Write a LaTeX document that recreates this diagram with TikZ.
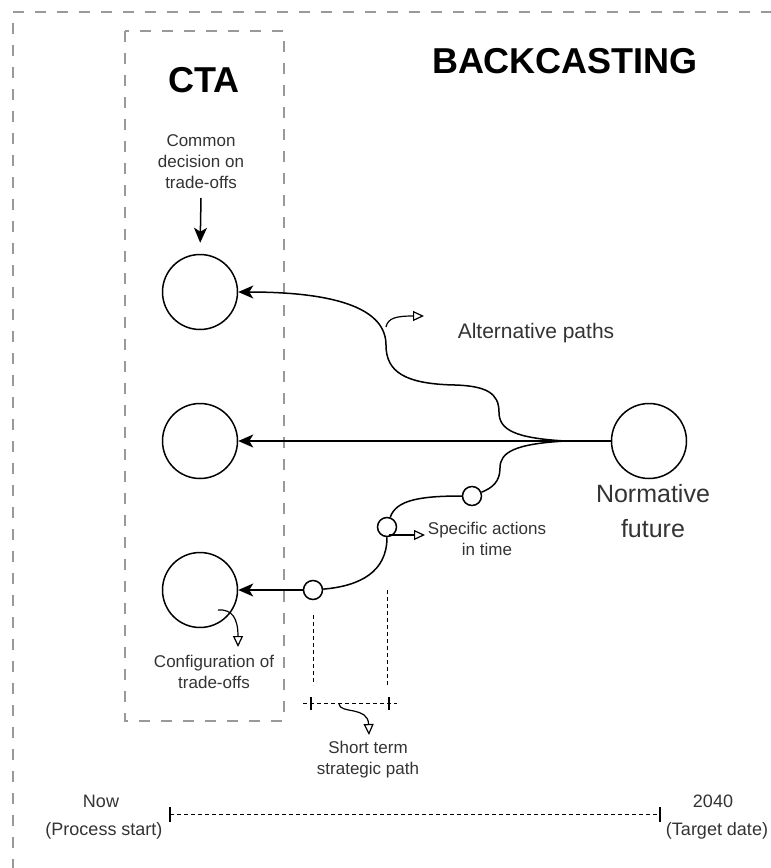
\documentclass[tikz,border=0pt]{standalone}
\usepackage{fontspec}
\setmainfont{Liberation Sans}
\usetikzlibrary{arrows.meta}
\begin{document}
\begin{tikzpicture}[x=1pt,y=-1pt,
  dashframe/.style={draw=black!40, line width=2.8pt, dash pattern=on 11pt off 11pt},
  stage/.style={circle, draw, line width=1.5pt, minimum size=75pt, inner sep=0pt},
  milestone/.style={circle, draw, line width=1.5pt, minimum size=19pt, inner sep=0pt, fill=white},
  route/.style={line width=1.5pt},
  mainarrow/.style={line width=1.5pt, -{Stealth[length=15pt,width=13pt,inset=4pt]}},
  notearrow/.style={line width=1.2pt, -{Triangle[length=11pt,width=10pt,fill=white]}},
  guideline/.style={line width=1pt, dash pattern=on 4pt off 3pt},
  tick/.style={line width=1.1pt},
  note/.style={text=black!80, align=center, font=\fontsize{17}{21}\selectfont, inner sep=0pt},
  heading/.style={font=\fontsize{36}{40}\selectfont\bfseries, inner sep=0pt},
]
\useasboundingbox (0,0) rectangle (771,868);

% outer backcasting frame (open to the right and bottom)
\draw[dashframe] (13,12) -- (771,12);
\draw[dashframe] (13,23) -- (13,868);

% CTA frame
\draw[dashframe] (125,31) rectangle (284,721);

% headings
\node[heading] at (204,80) {CTA};
\node[heading] at (565,61) {BACKCASTING};

% stages
\node[stage] (cta1) at (200,292) {};
\node[stage] (cta2) at (200,441) {};
\node[stage] (cta3) at (200,590) {};
\node[stage] (future) at (649,441) {};
\node[milestone] (m1) at (472,496) {};
\node[milestone] (m2) at (387,527) {};
\node[milestone] (m3) at (313,590) {};
\coordinate (merge) at (565,441);

% paths from the normative future back to the present
\draw[mainarrow] (future) -- (cta2);
\draw[mainarrow] (merge) .. controls (515,438) and (499,430) .. (499,412)
  .. controls (499,393) and (486,386) .. (455,385)
  .. controls (405,384) and (386,372) .. (386,345)
  .. controls (386,310) and (340,292) .. (cta1);
\draw[route] (merge) .. controls (515,444) and (500,452) .. (500,468)
  .. controls (500,482) and (492,488) .. (m1);
\draw[route] (m1) .. controls (420,496) and (396,500) .. (m2);
\draw[route] (m2) .. controls (387,572) and (360,586) .. (m3);
\draw[mainarrow] (m3) -- (cta3);

% decision label and arrow
\node[note] (decision) at (201,162) {Common\\decision on\\trade-offs};
\coordinate (decfrom) at (201,198);
\draw[mainarrow, shorten >=11pt] (decfrom) -- (cta1.north);

% annotation arrows
\coordinate (altfrom) at (386,327);
\coordinate (altto) at (424,316);
\draw[notearrow] (altfrom) .. controls (388,318) and (396,316) .. (altto);
\node[note, font=\fontsize{21}{25}\selectfont] at (536,333) {Alternative paths};

\coordinate (actfrom) at (389,535);
\coordinate (actto) at (425,535);
\draw[notearrow] (actfrom) -- (actto);
\node[note] at (487,539) {Specific actions\\in time};

\coordinate (cfgfrom) at (218,610);
\coordinate (cfgto) at (238,647);
\draw[notearrow] (cfgfrom) .. controls (232,609) and (238,618) .. (cfgto);
\node[note] at (214,672) {Configuration of\\trade-offs};

\node[note, font=\fontsize{25}{35}\selectfont] at (653,511) {Normative\\future};

% short term strategic path bracket
\coordinate (g1top) at (313,615);
\coordinate (g1bot) at (313,685);
\coordinate (g2top) at (387,590);
\coordinate (g2bot) at (387,685);
\draw[guideline] (g1top) -- (g1bot);
\draw[guideline] (g2top) -- (g2bot);
\coordinate (bl) at (303,703);
\coordinate (br) at (397,703);
\draw[guideline] (bl) -- (br);
\draw[tick] (311,697) -- (311,710);
\draw[tick] (389,697) -- (389,710);
\coordinate (stfrom) at (339,704);
\coordinate (stto) at (369,735);
\draw[notearrow] (stfrom) .. controls (340,714) and (368,706) .. (stto);
\node[note] at (368,760) {Short term\\strategic path};

% timeline
\coordinate (now) at (170,814);
\coordinate (target) at (660,814);
\draw[guideline] (now) -- (target);
\draw[tick] (170,807) -- (170,822);
\draw[tick] (660,807) -- (660,822);
\node[note, font=\fontsize{18}{22}\selectfont] at (101,801) {Now};
\node[note, font=\fontsize{18}{22}\selectfont] at (104,831) {(Process start)};
\node[note, font=\fontsize{18}{22}\selectfont] at (713,801) {2040};
\node[note, font=\fontsize{18}{22}\selectfont] at (717,831) {(Target date)};
\end{tikzpicture}
\end{document}
